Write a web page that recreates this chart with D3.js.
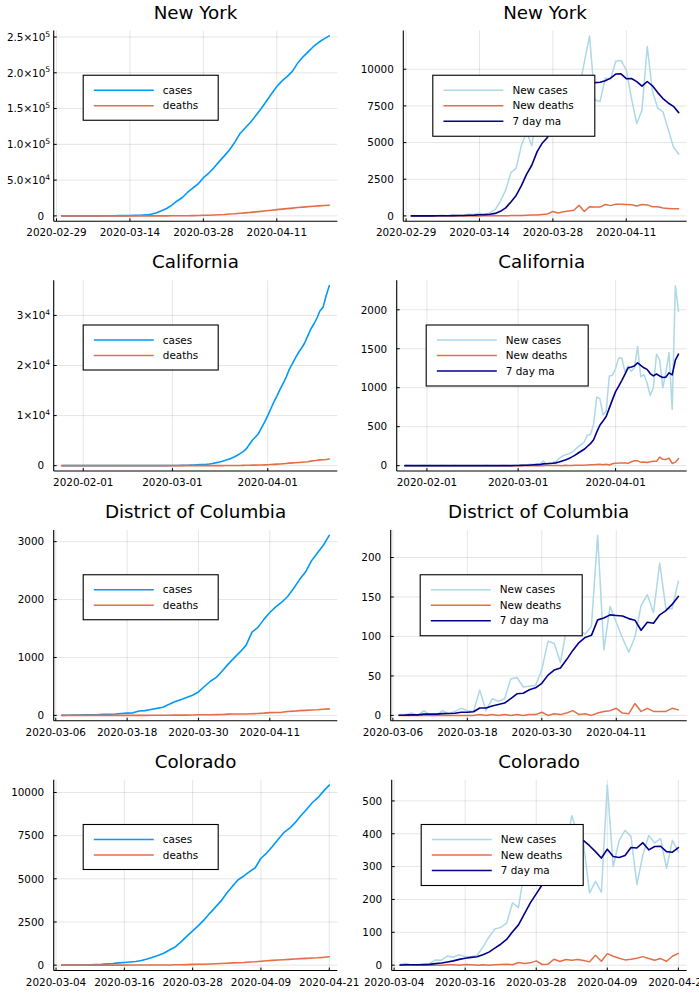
<!DOCTYPE html>
<html><head><meta charset="utf-8">
<script src="https://cdn.jsdelivr.net/npm/d3@7"></script>
<style>
body{margin:0;background:#fff}
svg{display:block}
text{font-family:"DejaVu Sans",sans-serif;fill:#000}
</style>
</head><body>
<svg id="chart" width="699" height="999"></svg>
<script>
// ---------------- DATA ----------------
// New York: 2020-03-01 .. 2020-04-21
const nyStart = "2020-03-01", nyEnd = "2020-04-21";
const nyCases = [0,0,1,10,21,43,88,105,141,172,216,325,420,609,731,949,1373,2381,4151,7101,10355,15167,20874,25664,33065,38986,44634,53362,59567,67173,75831,83888,92505,102986,115260,123160,130960,140360,149660,160210,170810,180760,188760,195060,202260,213810,222310,229660,236760,242660,247360,251560];
const nyDeaths = [0,0,0,0,0,0,0,0,0,0,0,0,0,0,3,10,13,23,35,55,89,116,157,210,277,377,511,811,1011,1291,1631,2021,2741,3041,3671,4271,4871,5651,6351,7141,7931,8711,9471,10141,10921,11671,12291,12921,13461,13971,14451,14931];
const nyNewCases = [0,0,1,9,11,22,45,17,36,31,44,109,95,189,122,218,424,1008,1770,2950,3254,4812,5707,4790,7401,5921,5648,8728,6205,7606,8658,8057,8617,10481,12274,7900,7800,9400,9300,10550,10600,9950,8000,6300,7200,11550,8500,7350,7100,5900,4700,4200];
const nyNewDeaths = [0,0,0,0,0,0,0,0,0,0,0,0,0,0,3,7,3,10,12,20,34,27,41,53,67,100,134,300,200,280,340,390,720,300,630,600,600,780,700,790,790,780,760,670,780,750,620,630,540,510,480,480];
const nyMA7 = [0,0,0.1,1.4,3,6.1,12.6,15,20.1,24.4,29.4,43.4,53.9,74.4,89.4,115.4,171.6,309.3,546.6,954.4,1392.3,2062.3,2846.4,3470.1,4383.4,4976.4,5361.9,6143.9,6342.9,6614.1,7166.7,7260.4,7645.6,8336,8842.6,9084.7,9112.4,9218.4,9396,9672.1,9689.1,9357.1,9371.4,9157.1,8842.9,9164.3,8871.4,8407.1,8000,7700,7471.4,7042.9];

// California: 2020-01-25 .. 2020-04-21
const caStart = "2020-01-25", caEnd = "2020-04-21";
const caCases = [1,2,2,2,2,2,3,3,6,6, 6,6,7,7,7,7,8,8,8,8, 8,8,8,8,8,8,9,9,9,9, 9,11,12,12,13,17,23,32,44,55, 72,88,108,130,190,214,244,284,339,429, 549,689,839,1009,1209,1449,1719,2019,2409,2809, 3339,4219,5079,5729,6429,7579,8739,9989,11369,12749, 13949,15229,16439,17699,19229,20369,21539,22599,23499,24499, 25929,27289,28289,29489,30939,31659,33969,35949];
const caDeaths = [0,0,0,0,0,0,0,0,0,0, 0,0,0,0,0,0,0,0,0,0, 0,0,0,0,0,0,0,0,0,0, 0,0,0,0,0,0,0,0,0,1, 1,1,1,1,1,2,3,4,5,7, 7,11,13,16,21,25,29,34,42,53, 65,81,98,111,129,138,163,195,228,263, 298,328,378,440,502,547,593,633,683,738, 793,901,983,1063,1158,1186,1231,1321];
const caNewCases = [1,1,0,0,0,0,1,0,3,0, 0,0,1,0,0,0,1,0,0,0, 0,0,0,0,0,0,1,0,0,0, 0,2,1,0,1,4,6,9,12,11, 17,16,20,22,60,24,30,40,55,90, 120,140,150,170,200,240,270,300,390,400, 530,880,860,650,700,1150,1160,1250,1380,1380, 1200,1280,1210,1260,1530,1140,1170,1060,900,1000, 1430,1360,1000,1200,1450,720,2310,1980];
const caNewDeaths = [0,0,0,0,0,0,0,0,0,0, 0,0,0,0,0,0,0,0,0,0, 0,0,0,0,0,0,0,0,0,0, 0,0,0,0,0,0,0,0,0,1, 0,0,0,0,0,1,1,1,1,2, 0,4,2,3,5,4,4,5,8,11, 12,16,17,13,18,9,25,32,33,35, 35,30,50,62,62,45,46,40,50,55, 55,108,82,80,95,28,45,90];
const caMA7 = [0.1,0.3,0.3,0.3,0.3,0.3,0.4,0.3,0.6,0.6, 0.6,0.6,0.7,0.6,0.6,0.1,0.3,0.3,0.3,0.1, 0.1,0.1,0.1,0,0,0,0.1,0.1,0.1,0.1, 0.1,0.4,0.6,0.4,0.6,1.1,2,3.3,4.7,6.1, 8.6,10.7,13,15.3,22.6,24.3,27,30.3,35.9,45.9, 59.9,71.3,89.3,109.3,132.1,158.6,184.3,210,245.7,281.4, 332.9,430,518.6,572.9,630,738.6,847.1,950,1021.4,1095.7, 1174.3,1257.1,1265.7,1280,1320,1285.7,1255.7,1235.7,1181.4,1151.4, 1175.7,1151.4,1131.4,1135.7,1191.4,1165.7,1352.9,1431.4];

// District of Columbia: 2020-03-07 .. 2020-04-21
const dcStart = "2020-03-07", dcEnd = "2020-04-21";
const dcCases = [1,2,5,5,11,11,11,17,19,24, 33,39,44,76,82,103,121,142,188,236, 272,309,347,405,499,590,657,767,885,993, 1096,1209,1437,1520,1658,1776,1874,1954,2053,2192, 2345,2475,2668,2803,2938,3108];
const dcDeaths = [0,0,0,0,0,0,0,0,0,0, 0,0,0,1,1,2,2,3,3,4, 4,5,6,10,10,12,13,16,22,23, 25,25,28,33,39,48,51,53,68,73, 82,87,92,97,106,113];
const dcNewCases = [1,1,3,0,6,0,0,6,2,5, 9,6,5,32,6,21,18,21,46,48, 36,37,38,58,94,91,67,110,118,108, 103,113,228,83,138,118,98,80,99,139, 153,130,193,135,135,170];
const dcNewDeaths = [0,0,0,0,0,0,0,0,0,0, 0,0,0,1,0,1,0,1,0,1, 0,1,1,4,0,2,1,3,6,1, 2,0,3,5,6,9,3,2,15,5, 9,5,5,5,9,7];
const dcMA7 = [0.1,0.3,0.7,0.7,1.6,1.6,1.6,2.3,2.4,2.7, 4,4,4.7,9.3,9.3,12,13.9,15.6,21.3,27.4, 28,32.4,34.9,40.6,51,57.4,60.1,70.7,82.3,92.3, 98.7,101.4,121,123.3,127.3,126.6,125.9,122.6,120.6,107.9, 117.9,116.7,127.4,132.7,140.6,150.7];

// Colorado: 2020-03-05 .. 2020-04-21
const coStart = "2020-03-05", coEnd = "2020-04-21";
const coCases = [2,8,8,8,11,16,32,47,75,99, 131,157,182,212,267,352,462,577,705,895, 1070,1360,1680,1980,2290,2620,3000,3360,3720,4175, 4575,4945,5165,5420,5642,6190,6490,6870,7280,7672, 7917,8252,8647,9019,9404,9699,10079,10424];
const coDeaths = [0,0,0,0,0,0,0,0,1,2, 2,4,5,5,6,6,7,9,12,13, 21,26,33,46,48,51,69,80,97,112, 129,143,153,183,195,230,257,278,294,312, 333,359,379,394,414,426,453,489];
const coNewCases = [2,6,0,0,3,5,16,15,28,24, 32,26,25,30,55,85,110,115,128,190, 175,290,320,300,310,330,380,360,360,455, 400,370,220,255,222,548,300,380,410,392, 245,335,395,372,385,295,380,345];
const coNewDeaths = [0,0,0,0,0,0,0,0,1,1, 0,2,1,0,1,0,1,2,3,1, 8,5,7,13,2,3,18,11,17,15, 17,14,10,30,12,35,27,21,16,18, 21,26,20,15,20,12,27,36];
const coMA7 = [0.3,1.1,1.1,1.1,1.6,2.3,4.6,6.4,9.6,13, 17.6,20.9,23.7,25.7,31.4,39.6,51.9,63.7,78.3,101.9, 122.6,156.1,189.7,216.9,244.7,273.6,300.7,327.1,337.1,356.4, 370.7,379.3,363.6,345.7,326,352.9,330.7,327.9,333.6,358.1, 356.7,372.9,351,361.3,362,345.6,343.9,358.1];

// Tick values / labels
const nyXTicks = ["2020-02-29","2020-03-14","2020-03-28","2020-04-11"];
const caXTicks = ["2020-02-01","2020-03-01","2020-04-01"];
const dcXTicks = ["2020-03-06","2020-03-18","2020-03-30","2020-04-11"];
const coXTicks = ["2020-03-04","2020-03-16","2020-03-28","2020-04-09","2020-04-21"];

const nyCumYTicks = [0,50000,100000,150000,200000,250000];
const nyCumYLabels = ["0","5.0×10^4","1.0×10^5","1.5×10^5","2.0×10^5","2.5×10^5"];
const nyNewYTicks = [0,2500,5000,7500,10000];
const caCumYTicks = [0,10000,20000,30000];
const caCumYLabels = ["0","1×10^4","2×10^4","3×10^4"];
const caNewYTicks = [0,500,1000,1500,2000];
const dcCumYTicks = [0,1000,2000,3000];
const dcNewYTicks = [0,50,100,150,200];
const coCumYTicks = [0,2500,5000,7500,10000];
const coNewYTicks = [0,100,200,300,400,500];

const cumLegend = ["cases","deaths"];
const newLegend = ["New cases","New deaths","7 day ma"];

// ---------------- STYLE / LAYOUT ----------------
const C_CASES = "#009AFA", C_DEATHS = "#E36F47", C_NEW = "#ADD8E6", C_MA = "#00008B";
const CELL_W = 349.5, CELL_H = 249.75;
const PLOT_TOP = 30.5, PLOT_BOTTOM = 221.3;
const TICK_FS = 10.4, TITLE_FS = 18.3;

const svg = d3.select("#chart");
svg.append("rect").attr("width",699).attr("height",999).attr("fill","#fff");
const parse = d3.utcParse("%Y-%m-%d");

function drawPanel(o) {
  const top = o.row*CELL_H + PLOT_TOP, bottom = o.row*CELL_H + PLOT_BOTTOM;
  const dates = d3.utcDay.range(parse(o.start), d3.utcDay.offset(parse(o.end),1));
  const t0 = +dates[0], t1 = +dates[dates.length-1], tspan = t1 - t0;
  const x = d3.scaleUtc().domain([new Date(t0 - 0.03*tspan), new Date(t1 + 0.03*tspan)]).range([o.left, o.right]);
  const allV = o.series.flatMap(s => s.values);
  const vmin = d3.min(allV), vmax = d3.max(allV), vr = vmax - vmin;
  const y = d3.scaleLinear().domain([vmin - 0.03*vr, vmax + 0.03*vr]).range([bottom, top]);
  const g = svg.append("g");

  // grid
  const xt = o.xTicks.map(parse);
  g.selectAll(null).data(xt).join("line")
    .attr("x1", d=>x(d)).attr("x2", d=>x(d)).attr("y1", top).attr("y2", bottom)
    .attr("stroke","#000").attr("stroke-opacity",0.1).attr("stroke-width",1);
  g.selectAll(null).data(o.yTicks).join("line")
    .attr("x1", o.left).attr("x2", o.right).attr("y1", d=>y(d)).attr("y2", d=>y(d))
    .attr("stroke","#000").attr("stroke-opacity",0.1).attr("stroke-width",1);

  // series
  o.series.forEach(s => {
    const line = d3.line().x((d,i)=>x(dates[i])).y(d=>y(d));
    g.append("path").attr("d", line(s.values)).attr("fill","none")
      .attr("stroke", s.color).attr("stroke-width", s.width)
      .attr("stroke-linejoin","round").attr("stroke-linecap","round");
  });

  // axes
  g.append("line").attr("x1",o.left).attr("x2",o.left).attr("y1",top).attr("y2",bottom)
    .attr("stroke","#000").attr("stroke-width",1.1);
  g.append("line").attr("x1",o.left).attr("x2",o.right).attr("y1",bottom).attr("y2",bottom)
    .attr("stroke","#000").attr("stroke-width",1.1);
  g.selectAll(null).data(xt).join("line")
    .attr("x1", d=>x(d)).attr("x2", d=>x(d)).attr("y1", bottom).attr("y2", bottom-3)
    .attr("stroke","#000").attr("stroke-width",1);
  g.selectAll(null).data(o.yTicks).join("line")
    .attr("x1", o.left).attr("x2", o.left+3).attr("y1", d=>y(d)).attr("y2", d=>y(d))
    .attr("stroke","#000").attr("stroke-width",1);

  // x tick labels
  g.selectAll(null).data(o.xTicks).join("text")
    .attr("x", d=>x(parse(d))).attr("y", bottom+15).attr("text-anchor","middle")
    .attr("font-size", TICK_FS).text(d=>d);

  // y tick labels
  const labels = o.yLabels || o.yTicks.map(v => String(v));
  o.yTicks.forEach((v,i) => {
    const lab = labels[i];
    const t = g.append("text").attr("y", y(v)).attr("dy","0.36em")
      .attr("text-anchor","end").attr("font-size", TICK_FS);
    if (lab.includes("^")) {
      const [base, ex] = lab.split("^");
      t.attr("x", o.left-3.5);
      t.append("tspan").text(base);
      t.append("tspan").attr("font-size", 7.6).attr("dy","-0.55em").text(ex);
    } else {
      t.attr("x", o.left-9.5).text(lab);
    }
  });

  // title
  g.append("text").attr("x",(o.left+o.right)/2).attr("y", o.row*CELL_H + 18.5)
    .attr("text-anchor","middle").attr("font-size", TITLE_FS).text(o.title);

  // legend
  const n = o.series.length;
  const lx = o.left + 29.5, ly = o.row*CELL_H + 75.25;
  const lw = n === 2 ? 135 : 162, lh = n === 2 ? 45 : 61;
  g.append("rect").attr("x",lx).attr("y",ly).attr("width",lw).attr("height",lh)
    .attr("fill","#fff").attr("stroke","#000").attr("stroke-width",1.1);
  o.series.forEach((s,i) => {
    const yy = ly + 15 + i*15.5;
    g.append("line").attr("x1",lx+10.6).attr("x2",lx+70.6).attr("y1",yy).attr("y2",yy)
      .attr("stroke",s.color).attr("stroke-width",s.width);
    g.append("text").attr("x",lx+79.6).attr("y",yy).attr("dy","0.36em")
      .attr("font-size",TICK_FS).text(s.label);
  });
}

const states = [
  {title:"New York", start:nyStart, end:nyEnd, xTicks:nyXTicks,
   cum:[nyCases,nyDeaths], cumY:nyCumYTicks, cumYL:nyCumYLabels,
   nw:[nyNewCases,nyNewDeaths,nyMA7], newY:nyNewYTicks, newLeft:403.3},
  {title:"California", start:caStart, end:caEnd, xTicks:caXTicks,
   cum:[caCases,caDeaths], cumY:caCumYTicks, cumYL:caCumYLabels,
   nw:[caNewCases,caNewDeaths,caMA7], newY:caNewYTicks, newLeft:396.7},
  {title:"District of Columbia", start:dcStart, end:dcEnd, xTicks:dcXTicks,
   cum:[dcCases,dcDeaths], cumY:dcCumYTicks, cumYL:null,
   nw:[dcNewCases,dcNewDeaths,dcMA7], newY:dcNewYTicks, newLeft:390.7},
  {title:"Colorado", start:coStart, end:coEnd, xTicks:coXTicks,
   cum:[coCases,coDeaths], cumY:coCumYTicks, cumYL:null,
   nw:[coNewCases,coNewDeaths,coMA7], newY:coNewYTicks, newLeft:391.7}
];

states.forEach((s, r) => {
  drawPanel({row:r, left:53.7, right:337.3, title:s.title, start:s.start, end:s.end,
    xTicks:s.xTicks, yTicks:s.cumY, yLabels:s.cumYL,
    series:[
      {values:s.cum[0], color:C_CASES, width:1.6, label:cumLegend[0]},
      {values:s.cum[1], color:C_DEATHS, width:1.6, label:cumLegend[1]}
    ]});
  drawPanel({row:r, left:s.newLeft, right:686.7, title:s.title, start:s.start, end:s.end,
    xTicks:s.xTicks, yTicks:s.newY, yLabels:null,
    series:[
      {values:s.nw[0], color:C_NEW, width:1.5, label:newLegend[0]},
      {values:s.nw[1], color:C_DEATHS, width:1.5, label:newLegend[1]},
      {values:s.nw[2], color:C_MA, width:1.6, label:newLegend[2]}
    ]});
});
</script>
</body></html>
